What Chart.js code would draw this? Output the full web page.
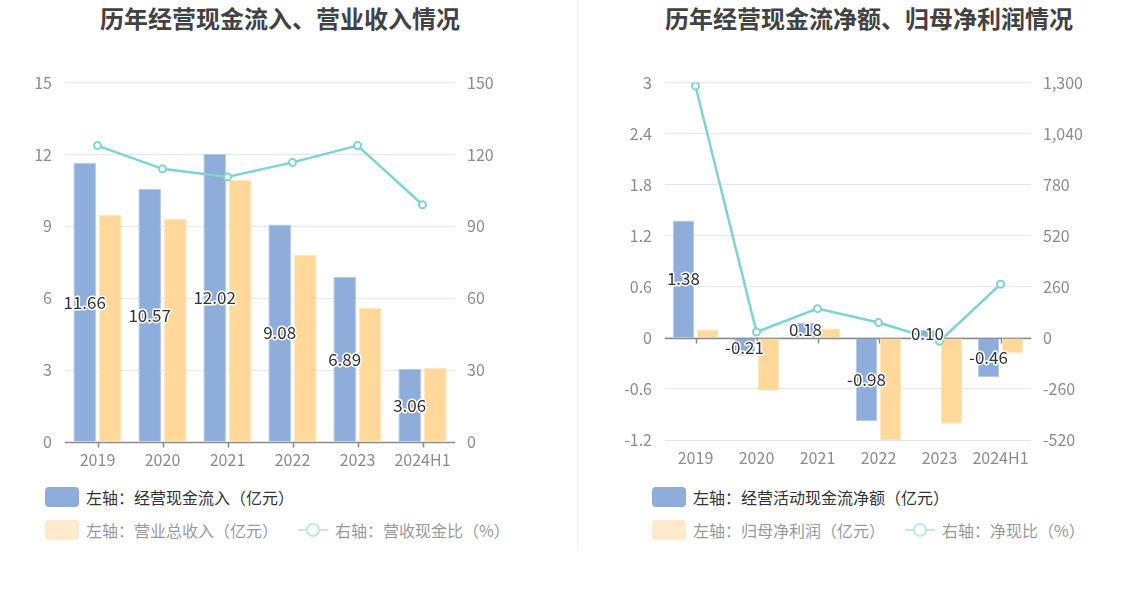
<!DOCTYPE html>
<html>
<head>
<meta charset="utf-8">
<script src="https://cdn.jsdelivr.net/npm/chart.js@4"></script>
<style>
    body { margin: 0; background: #fff; font-family: "Noto Sans CJK SC", sans-serif; }
    #page { position: relative; width: 1147px; height: 589px; overflow: hidden; }
    .title { position: absolute; top: 0; font-size: 24px; font-weight: bold; color: #424242; white-space: nowrap; transform: translateX(-50%); }
    .divider { position: absolute; left: 577px; top: 0; width: 1px; height: 550px; background: #eeeeee; }
    .box { position: absolute; top: 60px; height: 420px; }
    .legend { position: absolute; font-size: 16px; color: #333; }
    .legend-row { display: flex; align-items: center; height: 33px; }
    .legend-item { display: flex; align-items: center; margin-right: 20px; }
    .legend-item.faded { opacity: 0.5; }
    .swatch { width: 34px; height: 20px; border-radius: 4px; margin-right: 7px; }
    .line-icon { position: relative; width: 30px; height: 20px; margin-right: 7px; }
    .line-icon .bar { position: absolute; left: 0; top: 9px; width: 30px; height: 2px; }
    .line-icon .dot { position: absolute; left: 8px; top: 3px; width: 10px; height: 10px; border-radius: 50%; border: 2px solid; background: #fff; }
</style>
</head>
<body>
<div id="page">
    <div class="title" style="left: 280px;">历年经营现金流入、营业收入情况</div>
    <div class="title" style="left: 869px;">历年经营现金流净额、归母净利润情况</div>
    <div class="divider"></div>
    <div class="box" style="left: 0; width: 573px;"><canvas id="leftChart"></canvas></div>
    <div class="box" style="left: 577px; width: 570px;"><canvas id="rightChart"></canvas></div>
    <div class="legend" id="leftLegend" style="left: 45px; top: 480px;"></div>
    <div class="legend" id="rightLegend" style="left: 652px; top: 480px;"></div>
</div>
<script>
const years = ['2019', '2020', '2021', '2022', '2023', '2024H1'];

// left chart
const cashInflow = [11.66, 10.57, 12.02, 9.08, 6.89, 3.06];
const totalRevenue = [9.47, 9.31, 10.93, 7.82, 5.60, 3.10];
const cashRevenueRatio = [123.7, 114.0, 110.6, 116.7, 123.7, 99.0];

// right chart
const netOperatingCash = [1.38, -0.21, 0.18, -0.98, 0.10, -0.46];
const netProfit = [0.10, -0.62, 0.11, -1.21, -1.01, -0.18];
const cashProfitRatio = [1283, 30, 149, 78, -17, 273];

const blue = '#8eaddb';
const orange = '#ffd89a';
const teal = '#7fd3d7';
const tickColor = '#8c8c8c';

Chart.defaults.font.family = '"Noto Sans CJK SC", sans-serif';
Chart.defaults.font.size = 16;
Chart.defaults.color = tickColor;

// draws the category axis on the zero line, with small ticks under each year
const zeroAxis = {
    id: 'zeroAxis',
    beforeDatasetsDraw(chart) {
        const { ctx, chartArea, scales } = chart;
        const y = Math.round(scales.y.getPixelForValue(0)) + 0.5;
        ctx.save();
        ctx.strokeStyle = '#8a8a8a';
        ctx.lineWidth = 1.5;
        ctx.beginPath();
        ctx.moveTo(chartArea.left, y);
        ctx.lineTo(chartArea.right, y);
        years.forEach((yr, i) => {
            const x = Math.round(scales.x.getPixelForValue(i)) + 0.5;
            ctx.moveTo(x, y);
            ctx.lineTo(x, y + 5);
        });
        ctx.stroke();
        ctx.restore();
    }
};

// value labels in the middle of the first (blue) bar series
const barLabels = {
    id: 'barLabels',
    afterDatasetsDraw(chart) {
        const { ctx } = chart;
        const values = chart.data.datasets[0].data;
        ctx.save();
        ctx.font = '17px "Noto Sans CJK SC", sans-serif';
        ctx.textAlign = 'center';
        ctx.textBaseline = 'middle';
        ctx.lineJoin = 'round';
        ctx.lineWidth = 3;
        ctx.strokeStyle = '#fff';
        ctx.fillStyle = '#333';
        chart.getDatasetMeta(0).data.forEach((bar, i) => {
            const txt = values[i].toFixed(2);
            const y = (bar.y + bar.base) / 2;
            ctx.strokeText(txt, bar.x, y);
            ctx.fillText(txt, bar.x, y);
        });
        ctx.restore();
    }
};

const makeChart = (canvasId, opts) => {
    const ctx = document.getElementById(canvasId).getContext('2d');
    return new Chart(ctx, {
        data: {
            labels: years,
            datasets: [
                {
                    type: 'bar', label: opts.labels[0], data: opts.bars1,
                    backgroundColor: blue, borderColor: '#b3c8ea', borderWidth: 1,
                    categoryPercentage: 0.79, barPercentage: 0.88, order: 1, yAxisID: 'y'
                },
                {
                    type: 'bar', label: opts.labels[1], data: opts.bars2,
                    backgroundColor: orange, borderColor: '#ffe6c0', borderWidth: 1,
                    categoryPercentage: 0.79, barPercentage: 0.88, order: 1, yAxisID: 'y'
                },
                {
                    type: 'line', label: opts.labels[2], data: opts.line,
                    borderColor: teal, borderWidth: 2.5, tension: 0,
                    pointRadius: 3.5, pointBorderWidth: 2, pointBackgroundColor: '#fff', pointBorderColor: teal,
                    order: 0, yAxisID: 'y1'
                }
            ]
        },
        options: {
            responsive: true,
            maintainAspectRatio: false,
            animation: false,
            layout: { autoPadding: false, padding: { top: opts.top, left: 0, right: 0, bottom: 0 } },
            plugins: { legend: { display: false }, tooltip: { enabled: false } },
            scales: {
                x: {
                    grid: { display: false, drawTicks: false },
                    border: { display: false },
                    ticks: { padding: 8, color: tickColor, maxRotation: 0, minRotation: 0, autoSkip: false },
                    afterFit: (scale) => { scale.height = opts.xHeight; }
                },
                y: {
                    position: 'left',
                    min: opts.yRange[0], max: opts.yRange[1],
                    ticks: { stepSize: opts.yRange[2], padding: 13, color: tickColor,
                        callback: (v) => String(Number(v.toFixed(1))) },
                    grid: { color: '#e3e7f2', drawTicks: false },
                    border: { display: false },
                    afterFit: (scale) => { scale.width = opts.leftW; }
                },
                y1: {
                    position: 'right',
                    min: opts.y1Range[0], max: opts.y1Range[1],
                    ticks: { stepSize: opts.y1Range[2], padding: 12, color: tickColor,
                        callback: (v) => Math.round(v).toLocaleString('en-US') },
                    grid: { display: false, drawTicks: false },
                    border: { display: false },
                    afterFit: (scale) => { scale.width = opts.rightW; }
                }
            }
        },
        plugins: [zeroAxis, barLabels]
    });
};

const buildLegend = (chart, el) => {
    const ds = chart.data.datasets;
    const rows = [[0], [1, 2]];
    rows.forEach((idxs, r) => {
        const row = document.createElement('div');
        row.className = 'legend-row';
        idxs.forEach((i) => {
            const item = document.createElement('div');
            item.className = 'legend-item' + (r > 0 ? ' faded' : '');
            let icon;
            if (ds[i].type === 'line') {
                icon = document.createElement('div');
                icon.className = 'line-icon';
                icon.innerHTML = `<div class="bar" style="background:${ds[i].borderColor}"></div>` +
                    `<div class="dot" style="border-color:${ds[i].borderColor}"></div>`;
            } else {
                icon = document.createElement('div');
                icon.className = 'swatch';
                icon.style.background = ds[i].backgroundColor;
            }
            const text = document.createElement('span');
            text.textContent = ds[i].label;
            item.appendChild(icon);
            item.appendChild(text);
            row.appendChild(item);
        });
        el.appendChild(row);
    });
};

const leftChart = makeChart('leftChart', {
    labels: ['左轴：经营现金流入（亿元）', '左轴：营业总收入（亿元）', '右轴：营收现金比（%）'],
    bars1: cashInflow, bars2: totalRevenue, line: cashRevenueRatio,
    yRange: [0, 15, 3], y1Range: [0, 150, 30],
    top: 21, xHeight: 38, leftW: 65, rightW: 118
});

const rightChart = makeChart('rightChart', {
    labels: ['左轴：经营活动现金流净额（亿元）', '左轴：归母净利润（亿元）', '右轴：净现比（%）'],
    bars1: netOperatingCash, bars2: netProfit, line: cashProfitRatio,
    yRange: [-1.2, 3, 0.6], y1Range: [-520, 1300, 260],
    top: 21, xHeight: 40, leftW: 88, rightW: 116
});

buildLegend(leftChart, document.getElementById('leftLegend'));
buildLegend(rightChart, document.getElementById('rightLegend'));
</script>
</body>
</html>
